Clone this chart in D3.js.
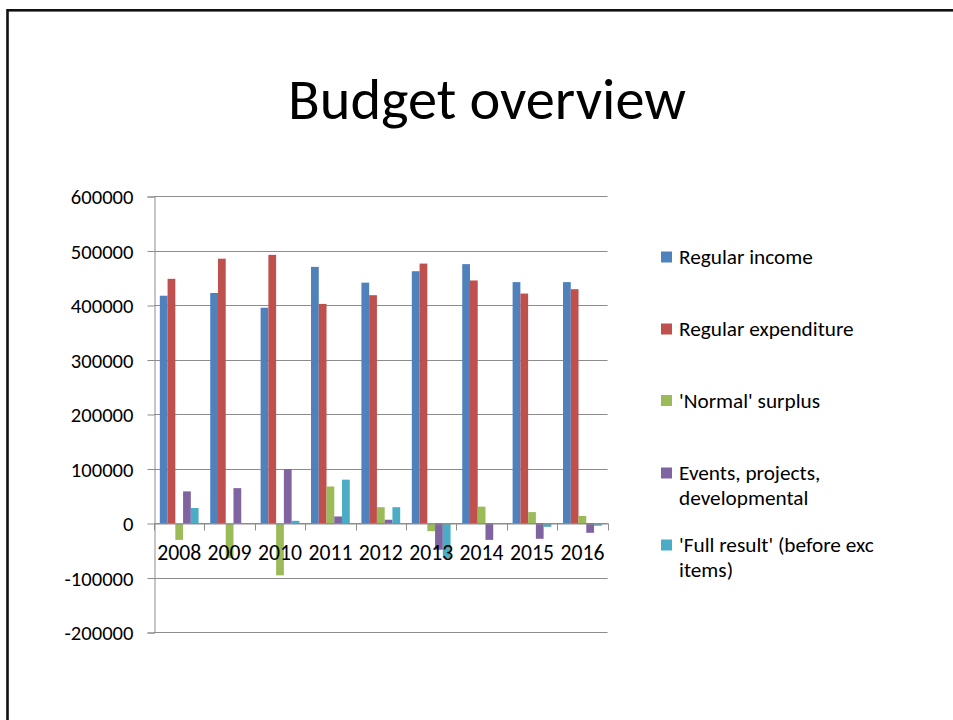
<!DOCTYPE html>
<html>
<head>
<meta charset="utf-8">
<script src="https://cdn.jsdelivr.net/npm/d3@7"></script>
<style>
  html, body { margin: 0; padding: 0; background: #fff; }
  svg { display: block; }
  text { font-family: Carlito, Calibri, Lato, "Open Sans", sans-serif; fill: #000; }
</style>
</head>
<body>
<svg id="chart" width="953" height="720"></svg>
<script>
// ---- data ----
const title = "Budget overview";
const years = ["2008", "2009", "2010", "2011", "2012", "2013", "2014", "2015", "2016"];
const seriesNames = [
  "Regular income",
  "Regular expenditure",
  "'Normal' surplus",
  "Events, projects, developmental",
  "'Full result' (before exc items)"
];
const legendLines = [
  ["Regular income"],
  ["Regular expenditure"],
  ["'Normal' surplus"],
  ["Events, projects,", "developmental"],
  ["'Full result' (before exc", "items)"]
];
const regularIncome      = [417000, 422000, 395000, 470000, 441000, 462000, 475000, 442000, 442000];
const regularExpenditure = [448000, 485000, 492000, 402000, 418000, 476000, 445000, 421000, 429000];
const normalSurplus      = [-31000, -64000, -96000, 67000, 29000, -15000, 30000, 20000, 13000];
const eventsProjects     = [58000, 64000, 99000, 12000, 6000, -49000, -31000, -29000, -18000];
const fullResult         = [27500, 0, 4000, 79500, 29000, -64000, -1000, -7000, -5000];
const yTicks = [-200000, -100000, 0, 100000, 200000, 300000, 400000, 500000, 600000];
const colors = ["#4F81BD", "#C0504D", "#9BBB59", "#8064A2", "#4BACC6"];

const seriesValues = [regularIncome, regularExpenditure, normalSurplus, eventsProjects, fullResult];

// ---- layout ----
const svg = d3.select("#chart");
const plot = { left: 154, right: 607.6, top: 196, bottom: 632 };

// helper: fit font size to target width
function fitSize(str, targetW, base) {
  const t = svg.append("text").attr("font-size", base).text(str);
  const w = t.node().getComputedTextLength();
  t.remove();
  return base * targetW / w;
}
const axisFont = fitSize("600000", 62.7, 20);
const catFont = fitSize("2008", 44, 20);
const legendFont = fitSize("Regular income", 134, 20);
const titleFont = fitSize(title, 398, 50);

// frame
svg.append("rect")
  .attr("x", 7.5).attr("y", 10.3)
  .attr("width", 1200).attr("height", 1000)
  .attr("fill", "none").attr("stroke", "#111").attr("stroke-width", 2.6);

// title
svg.append("text")
  .attr("x", 487).attr("y", 119)
  .attr("text-anchor", "middle")
  .attr("font-size", titleFont)
  .text(title);

const x0 = d3.scaleBand().domain(years).range([plot.left, plot.right]).paddingInner(0).paddingOuter(0);
const barW = x0.bandwidth() / 6.5;
const x1 = d3.scaleBand().domain(d3.range(5)).range([0.75 * barW, x0.bandwidth() - 0.75 * barW]).padding(0);
const y = d3.scaleLinear().domain([-200000, 600000]).range([plot.bottom, plot.top]);

// gridlines
svg.append("g").selectAll("line").data(yTicks).join("line")
  .attr("x1", plot.left).attr("x2", plot.right)
  .attr("y1", d => Math.round(y(d)) + 0.5).attr("y2", d => Math.round(y(d)) + 0.5)
  .attr("stroke", "#8c8c8c").attr("stroke-width", 1);

// y axis
const yAxis = d3.axisLeft(y).tickValues(yTicks).tickSize(7).tickPadding(14).tickFormat(d => String(d));
const gy = svg.append("g").attr("transform", `translate(${plot.left + 0.5},0.5)`).call(yAxis);
gy.select(".domain").attr("stroke", "#8c8c8c");
gy.selectAll(".tick line").attr("stroke", "#8c8c8c");
gy.selectAll(".tick text").attr("font-size", axisFont).attr("font-family", null).attr("fill", "#000").attr("dy", "0.36em");

// bars
const groups = svg.append("g").selectAll("g").data(years).join("g")
  .attr("transform", d => `translate(${x0(d)},0)`);
groups.selectAll("rect")
  .data((d, i) => seriesValues.map((s, k) => ({ k, v: s[i] })))
  .join("rect")
  .attr("x", d => x1(d.k))
  .attr("width", x1.bandwidth())
  .attr("y", d => y(Math.max(0, d.v)))
  .attr("height", d => Math.abs(y(d.v) - y(0)))
  .attr("fill", d => colors[d.k]);

// x axis at zero
const xAxis = d3.axisBottom(x0).tickSize(0).tickPadding(21);
const gx = svg.append("g").attr("transform", `translate(0,${Math.round(y(0)) + 0.5})`).call(xAxis);
gx.select(".domain").attr("stroke", "#8c8c8c");
gx.selectAll(".tick text").attr("font-size", catFont).attr("font-family", null).attr("fill", "#000");
// category boundary tick marks
gx.append("g").selectAll("line").data(years.concat(["end"])).join("line")
  .attr("x1", (d, i) => Math.round(plot.left + i * x0.bandwidth()) + 0.5)
  .attr("x2", (d, i) => Math.round(plot.left + i * x0.bandwidth()) + 0.5)
  .attr("y1", 0).attr("y2", 7)
  .attr("stroke", "#8c8c8c");

// legend
const legendY = [257, 329, 400.5, 473, 545];
const lg = svg.append("g");
legendLines.forEach((lines, i) => {
  lg.append("rect")
    .attr("x", 661).attr("y", legendY[i] - 5.5)
    .attr("width", 11).attr("height", 11)
    .attr("fill", colors[i]);
  const t = lg.append("text")
    .attr("x", 679).attr("y", legendY[i])
    .attr("font-size", legendFont);
  lines.forEach((ln, j) => {
    t.append("tspan").attr("x", 679).attr("dy", j === 0 ? "0.35em" : 25).text(ln);
  });
});
</script>
</body>
</html>
